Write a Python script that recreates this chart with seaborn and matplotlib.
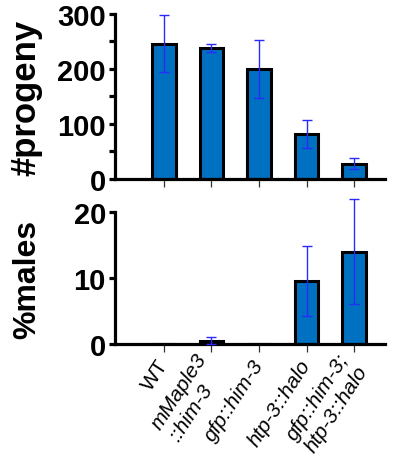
import matplotlib
matplotlib.use("Agg")
import matplotlib.pyplot as plt
import seaborn as sns
import numpy as np
import pandas as pd
from matplotlib.ticker import MultipleLocator

# ---- data ----
strains = ["WT", "mMaple3\n::him-3", "gfp::him-3", "htp-3::halo", "gfp::him-3;\nhtp-3::halo"]
progeny_mean = [246, 238, 200, 82, 28]
progeny_err = [52, 7, 53, 25, 10]
males_mean = [0.0, 0.5, 0.0, 9.5, 14.0]
males_err = [0.0, 0.5, 0.0, 5.3, 8.0]
progeny_ticks = [0, 100, 200, 300]
males_ticks = [0, 10, 20]

sns.set_style("white")
plt.rcParams['font.family'] = ['Liberation Sans', 'DejaVu Sans']

BAR = "#0070C0"
ERR = "#2a2aff"

fig = plt.figure(figsize=(4.0, 4.6), dpi=100)
ax1 = fig.add_axes([0.2875, 0.6087, 0.675, 0.3587])
ax2 = fig.add_axes([0.2875, 0.25, 0.675, 0.287])

df1 = pd.DataFrame({"strain": strains, "value": progeny_mean, "err": progeny_err})
df2 = pd.DataFrame({"strain": strains, "value": males_mean, "err": males_err})

for ax, df, ylim, ticks, label, lsize in [
    (ax1, df1, (0, 300), progeny_ticks, "#progeny", 25),
    (ax2, df2, (0, 20), males_ticks, "%males", 23),
]:
    sns.barplot(data=df, x="strain", y="value", ax=ax, color=BAR, saturation=1,
                width=0.5, edgecolor="black", linewidth=2.2, errorbar=None)
    x = np.arange(len(strains))
    m = df["err"].to_numpy() > 0
    ax.errorbar(x[m], df["value"].to_numpy()[m], yerr=df["err"].to_numpy()[m], fmt="none",
                ecolor=ERR, elinewidth=1.0, capsize=3.5, capthick=1.0,
                clip_on=False, zorder=5)
    ax.set_xlim(-1.03, 4.65)
    ax.set_ylim(*ylim)
    ax.set_yticks(ticks)
    ax.set_yticklabels([str(t) for t in ticks], fontsize=21, fontweight="bold", color="black")
    ax.set_xlabel("")
    ax.set_ylabel(label, fontsize=lsize, fontweight="bold", color="black")
    ax.yaxis.set_label_coords(-0.27, 0.5)
    for s in ["top", "right"]:
        ax.spines[s].set_visible(False)
    for s in ["left", "bottom"]:
        ax.spines[s].set_linewidth(2.3)
        ax.spines[s].set_color("black")
    ax.tick_params(axis="y", which="both", direction="out", length=4.5,
                   width=2.3, color="black", pad=2, left=True)
    ax.tick_params(axis="x", direction="out", length=6, width=0.9,
                   color="#333333", bottom=True)

ax1.yaxis.set_minor_locator(MultipleLocator(50))
ax1.set_xticklabels([])

ax2.set_xticks(range(len(strains)))
ax2.set_xticklabels(strains, rotation=57, ha="right", va="center",
                    rotation_mode="anchor", fontsize=15, multialignment="left",
                    color="black")
for i, t in enumerate(ax2.get_xticklabels()):
    t.set_fontstyle("normal" if i == 0 else "italic")
ax2.tick_params(axis="x", pad=6)

fig.savefig("out.png", dpi=100)
